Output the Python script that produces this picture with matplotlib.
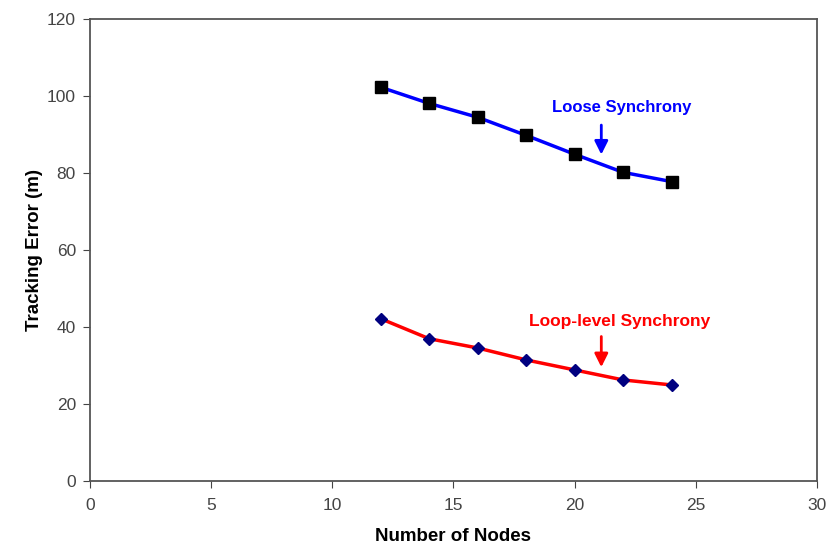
import matplotlib.pyplot as plt

plt.rcParams['font.family'] = ['Liberation Sans', 'DejaVu Sans']

# data
nodes = [12, 14, 16, 18, 20, 22, 24]
loose_sync = [102.3, 98.1, 94.5, 89.8, 84.9, 80.2, 77.8]
loop_sync = [42.2, 37.0, 34.6, 31.5, 28.9, 26.3, 25.0]

fig = plt.figure(figsize=(8.32, 5.45), dpi=100)
ax = fig.add_axes([0.108, 0.117, 0.874, 0.848])

ax.plot(nodes, loose_sync, color='#0000ff', linewidth=2.5, marker='s',
        markersize=9, markerfacecolor='black', markeredgecolor='black')
ax.plot(nodes, loop_sync, color='#ff0000', linewidth=2.5, marker='D',
        markersize=6, markerfacecolor='#000080', markeredgecolor='#000080')

ax.annotate('', xy=(21.1, 84.1), xytext=(21.1, 93.2),
            arrowprops=dict(arrowstyle='-|>', color='#0000ff', lw=2, mutation_scale=20))
ax.text(21.95, 97.1, 'Loose Synchrony', color='#0000ff', fontsize=12,
        fontweight='bold', ha='center', va='center')

ax.annotate('', xy=(21.1, 28.9), xytext=(21.1, 38.3),
            arrowprops=dict(arrowstyle='-|>', color='#ff0000', lw=2, mutation_scale=20))
ax.text(21.87, 41.6, 'Loop-level Synchrony', color='#ff0000', fontsize=12.5,
        fontweight='bold', ha='center', va='center')

ax.set_xlim(0, 30)
ax.set_ylim(0, 120)
ax.set_xticks(range(0, 31, 5))
ax.set_yticks(range(0, 121, 20))
ax.tick_params(direction='out', length=5, labelsize=12.5, colors='#444444', pad=7)
ax.tick_params(axis='y', pad=5)
for s in ax.spines.values():
    s.set_color('#555555')
    s.set_linewidth(1.3)

ax.set_xlabel('Number of Nodes', fontsize=13.5, fontweight='bold', labelpad=11)
ax.set_ylabel('Tracking Error (m)', fontsize=13.5, fontweight='bold', labelpad=3)

fig.savefig('out.png', dpi=100)
